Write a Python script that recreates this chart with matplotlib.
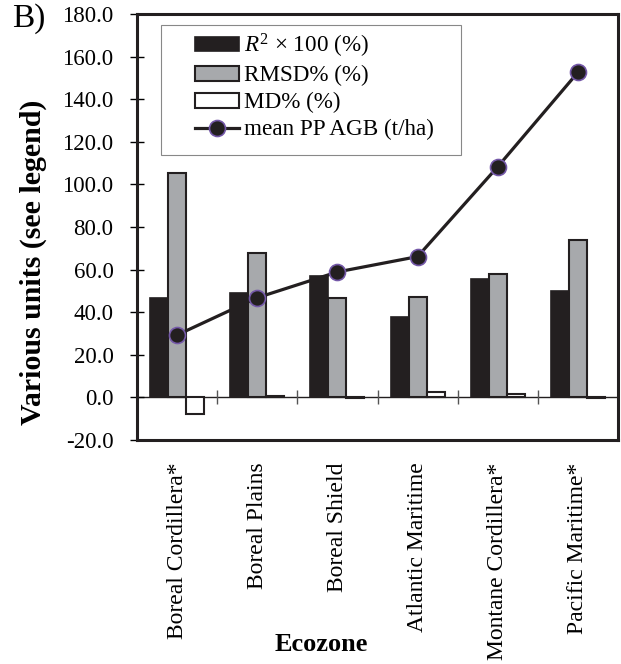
import matplotlib
matplotlib.use("Agg")
import matplotlib.pyplot as plt
import numpy as np
from matplotlib.lines import Line2D
from matplotlib.patches import Patch, Rectangle

plt.rcParams['font.family'] = ['Liberation Serif', 'DejaVu Serif']
plt.rcParams['mathtext.fontset'] = 'custom'
plt.rcParams['mathtext.it'] = 'Liberation Serif:italic'
plt.rcParams['mathtext.rm'] = 'Liberation Serif'

ecozones = ["Boreal Cordillera*", "Boreal Plains", "Boreal Shield",
            "Atlantic Maritime", "Montane Cordillera*", "Pacific Maritime*"]
r2_x100 = [46.8, 48.9, 57.0, 37.9, 55.7, 49.8]
rmsd_pct = [105.2, 67.9, 46.5, 47.3, 57.9, 73.7]
md_pct = [-7.9, 0.5, -0.3, 2.4, 1.6, -0.4]
mean_agb = [29.3, 46.8, 58.9, 66.1, 108.3, 152.6]
y_ticks = [-20.0, 0.0, 20.0, 40.0, 60.0, 80.0, 100.0, 120.0, 140.0, 160.0, 180.0]

fig = plt.figure(figsize=(6.21, 6.64), dpi=100)
ax = fig.add_axes([0.2206, 0.3373, 0.7746, 0.6417])

x = np.arange(len(ecozones))
w = 0.225
black = '#231f20'
grey = '#a7a9ac'
ax.bar(x - w, r2_x100, w, color=black, edgecolor=black, linewidth=1.2, zorder=2)
ax.bar(x, rmsd_pct, w, color=grey, edgecolor=black, linewidth=1.5, zorder=2)
ax.bar(x + w, md_pct, w, color='white', edgecolor=black, linewidth=1.5, zorder=2)

ax.axhline(0, color=black, linewidth=1.0, zorder=1)
ax.vlines(x[:-1] + 0.5, -3.3, 3.3, color='#555555', linewidth=1.0, zorder=1)

ax.plot(x, mean_agb, color=black, linewidth=2.3, marker='o', markersize=11.5,
        markerfacecolor=black, markeredgecolor='#7458a8', markeredgewidth=1.2, zorder=4)

ax.set_xlim(-0.5, len(ecozones) - 0.5)
ax.set_ylim(-20, 180)
ax.set_yticks(y_ticks)
ax.set_yticklabels([f"{v:.1f}" for v in y_ticks], fontsize=16.5)
ax.set_xticks(x)
ax.set_xticklabels(ecozones, rotation=90, fontsize=17, va='top')
ax.tick_params(axis='x', length=0, pad=16)
ax.tick_params(axis='y', direction='inout', length=10, width=1.0, pad=12)
for s in ax.spines.values():
    s.set_linewidth(2.2)
    s.set_color(black)

fig.text(0.053, 0.605, "Various units (see legend)", fontsize=21.5, fontweight='bold',
         rotation=90, ha='center', va='center')
fig.text(0.517, 0.029, "Ecozone", fontsize=19, fontweight='bold', ha='center', va='center')
fig.text(0.019, 0.959, "B)", fontsize=24, ha='left', va='baseline')

# legend frame drawn as a plain box with wide side margins
ax.add_patch(Rectangle((0.0499, 0.669), 0.6237, 0.305, transform=ax.transAxes,
                       facecolor='white', edgecolor='#888888', linewidth=0.8, zorder=5))

handles = [
    Patch(facecolor=black, edgecolor=black, linewidth=1.2),
    Patch(facecolor=grey, edgecolor=black, linewidth=1.5),
    Patch(facecolor='white', edgecolor=black, linewidth=1.5),
    Line2D([0], [0], color=black, linewidth=2.3, marker='o', markersize=11.5,
           markerfacecolor=black, markeredgecolor='#7458a8', markeredgewidth=1.2),
]
labels = [r"$R^2$ × 100 (%)", "RMSD% (%)", "MD% (%)", "mean PP AGB (t/ha)"]
leg = ax.legend(handles, labels, loc='upper left', bbox_to_anchor=(0.1206, 0.959),
                fontsize=16.7, frameon=False,
                handlelength=1.9, handleheight=0.6, handletextpad=0.2,
                labelspacing=0.25, borderpad=0, borderaxespad=0)
leg.set_zorder(6)

fig.savefig("out.png", dpi=100)
